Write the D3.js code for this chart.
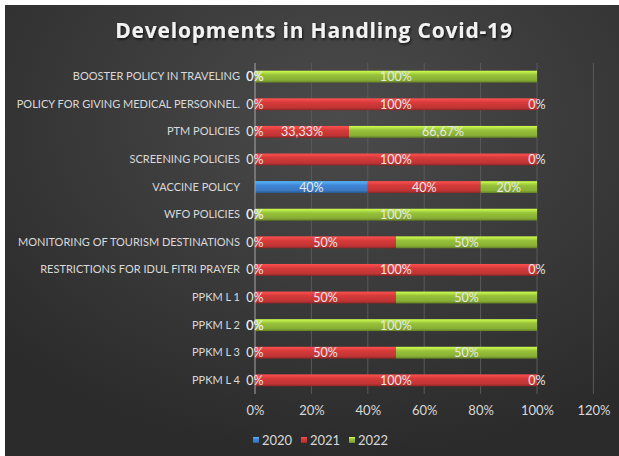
<!DOCTYPE html>
<html lang="en">
<head>
    <meta charset="utf-8">
    <title>Developments in Handling Covid-19</title>
    <script type="text/javascript" src="https://d3js.org/d3.v7.min.js"></script>
    <style>
        html, body {
            margin: 0;
            padding: 0;
            background: #ffffff;
        }
        text {
            font-family: Lato, "Open Sans", sans-serif;
        }
    </style>
</head>
<body>
<script type="text/javascript">
    // categories top to bottom
    var categories = [
        "BOOSTER POLICY IN TRAVELING",
        "POLICY FOR GIVING MEDICAL PERSONNEL.",
        "PTM POLICIES",
        "SCREENING POLICIES",
        "VACCINE POLICY",
        "WFO POLICIES",
        "MONITORING OF TOURISM DESTINATIONS",
        "RESTRICTIONS FOR IDUL FITRI PRAYER",
        "PPKM L 1",
        "PPKM L 2",
        "PPKM L 3",
        "PPKM L 4"
    ];
    var years = ["2020", "2021", "2022"];
    var v2020 = [0, 0, 0, 0, 0.40, 0, 0, 0, 0, 0, 0, 0];
    var v2021 = [0, 1, 0.3333, 1, 0.40, 0, 0.50, 1, 0.50, 0, 0.50, 1];
    var v2022 = [1, 0, 0.6667, 0, 0.20, 1, 0.50, 0, 0.50, 1, 0.50, 0];
    var xTicks = [0, 0.2, 0.4, 0.6, 0.8, 1.0, 1.2];

    var W = 619, H = 456;
    var colors = {"2020": "#3f86d6", "2021": "#d63a3a", "2022": "#97c23a"};

    var svg = d3.select("body").append("svg")
        .attr("width", W).attr("height", H);

    var defs = svg.append("defs");
    var bg = defs.append("radialGradient").attr("id", "bg")
        .attr("cx", "55%").attr("cy", "25%").attr("r", "75%");
    bg.append("stop").attr("offset", "0%").attr("stop-color", "#4b4b4b");
    bg.append("stop").attr("offset", "100%").attr("stop-color", "#2b2b2b");

    years.forEach(function(y) {
        var c = d3.color(colors[y]);
        var g = defs.append("linearGradient").attr("id", "g" + y)
            .attr("x1", 0).attr("y1", 0).attr("x2", 0).attr("y2", 1);
        g.append("stop").attr("offset", "0%").attr("stop-color", c.brighter(0.9));
        g.append("stop").attr("offset", "35%").attr("stop-color", c);
        g.append("stop").attr("offset", "80%").attr("stop-color", c.darker(0.3));
        g.append("stop").attr("offset", "100%").attr("stop-color", c.darker(1.2));
    });

    var shadow = defs.append("filter").attr("id", "tshadow")
        .attr("x", "-10%").attr("y", "-20%").attr("width", "120%").attr("height", "150%");
    shadow.append("feDropShadow").attr("dx", 1).attr("dy", 1.5)
        .attr("stdDeviation", 1).attr("flood-color", "#000").attr("flood-opacity", 0.7);

    svg.append("rect").attr("x", 5).attr("y", 5).attr("width", W - 5).attr("height", H - 5)
        .attr("fill", "url(#bg)");

    svg.append("text")
        .attr("x", 314).attr("y", 38)
        .attr("text-anchor", "middle")
        .attr("fill", "#f2f2f2")
        .attr("filter", "url(#tshadow)")
        .style("font-family", "'Open Sans', sans-serif")
        .style("font-weight", "bold")
        .style("font-size", "21px")
        .style("letter-spacing", "0.8px")
        .text("Developments in Handling Covid-19");

    var x = d3.scaleLinear().domain([0, 1.2]).range([255, 593.4]);
    var y = d3.scaleBand().domain(categories).range([63, 394]).paddingInner(0.57).paddingOuter(0.28);

    // gridlines
    svg.append("g").selectAll("line").data(xTicks.slice(1)).join("line")
        .attr("x1", function(d) { return x(d); }).attr("x2", function(d) { return x(d); })
        .attr("y1", 63).attr("y2", 394)
        .attr("stroke", "#5a5a5a").attr("stroke-width", 1);

    var xAxis = d3.axisBottom(x).tickValues(xTicks).tickSize(0).tickPadding(0)
        .tickFormat(function(d) { return Math.round(d * 100) + "%"; });
    var gx = svg.append("g").attr("transform", "translate(0,406)").call(xAxis);
    gx.select(".domain").remove();
    gx.selectAll("text").attr("fill", "#d9d9d9").attr("dy", "0.71em")
        .style("font-size", "13px");

    var yAxis = d3.axisLeft(y).tickSize(0).tickPadding(0);
    var gy = svg.append("g").attr("transform", "translate(240,0)").call(yAxis);
    gy.select(".domain").remove();
    gy.selectAll("text").attr("fill", "#d9d9d9").style("font-size", "11px");

    // stacked series
    var rows = categories.map(function(c, i) {
        return {cat: c, "2020": v2020[i], "2021": v2021[i], "2022": v2022[i]};
    });
    var stack = d3.stack().keys(years)(rows);

    var bars = svg.append("g");
    stack.forEach(function(s) {
        bars.selectAll(null).data(s).join("rect")
            .attr("x", function(d) { return x(d[0]); })
            .attr("y", function(d) { return y(d.data.cat); })
            .attr("width", function(d) { return x(d[1]) - x(d[0]); })
            .attr("height", y.bandwidth())
            .attr("fill", "url(#g" + s.key + ")");
    });

    // axis line at 0
    svg.append("line").attr("x1", x(0)).attr("x2", x(0)).attr("y1", 63).attr("y2", 394)
        .attr("stroke", "#a6a6a6").attr("stroke-width", 1);

    function fmt(v) {
        if (v === 0) return "0%";
        var p = v * 100;
        if (Math.abs(p - Math.round(p)) < 1e-6) return Math.round(p) + "%";
        return p.toFixed(2).replace(".", ",") + "%";
    }

    var labels = svg.append("g");
    stack.forEach(function(s) {
        labels.selectAll(null).data(s.filter(function(d) {
            // the vaccine row has no empty years, so no 0% label there
            return !(d[1] - d[0] === 0 && d.data.cat === "VACCINE POLICY");
        })).join("text")
            .attr("x", function(d) { return x((d[0] + d[1]) / 2); })
            .attr("y", function(d) { return y(d.data.cat) + y.bandwidth() / 2; })
            .attr("dy", "0.36em")
            .attr("text-anchor", "middle")
            .attr("fill", "#e8e8e8")
            .style("font-size", "12.5px")
            .text(function(d) { return fmt(d[1] - d[0]); });
    });

    // legend
    var legend = svg.append("g").attr("transform", "translate(253,440)");
    var lg = legend.selectAll("g").data(years).join("g")
        .attr("transform", function(d, i) { return "translate(" + (i * 48) + ",0)"; });
    lg.append("rect").attr("x", 0).attr("y", -3).attr("width", 6).attr("height", 6)
        .attr("fill", function(d) { return "url(#g" + d + ")"; });
    lg.append("text").attr("x", 9).attr("dy", "0.36em")
        .attr("fill", "#d9d9d9").style("font-size", "13px")
        .text(function(d) { return d; });
</script>
</body>
</html>
